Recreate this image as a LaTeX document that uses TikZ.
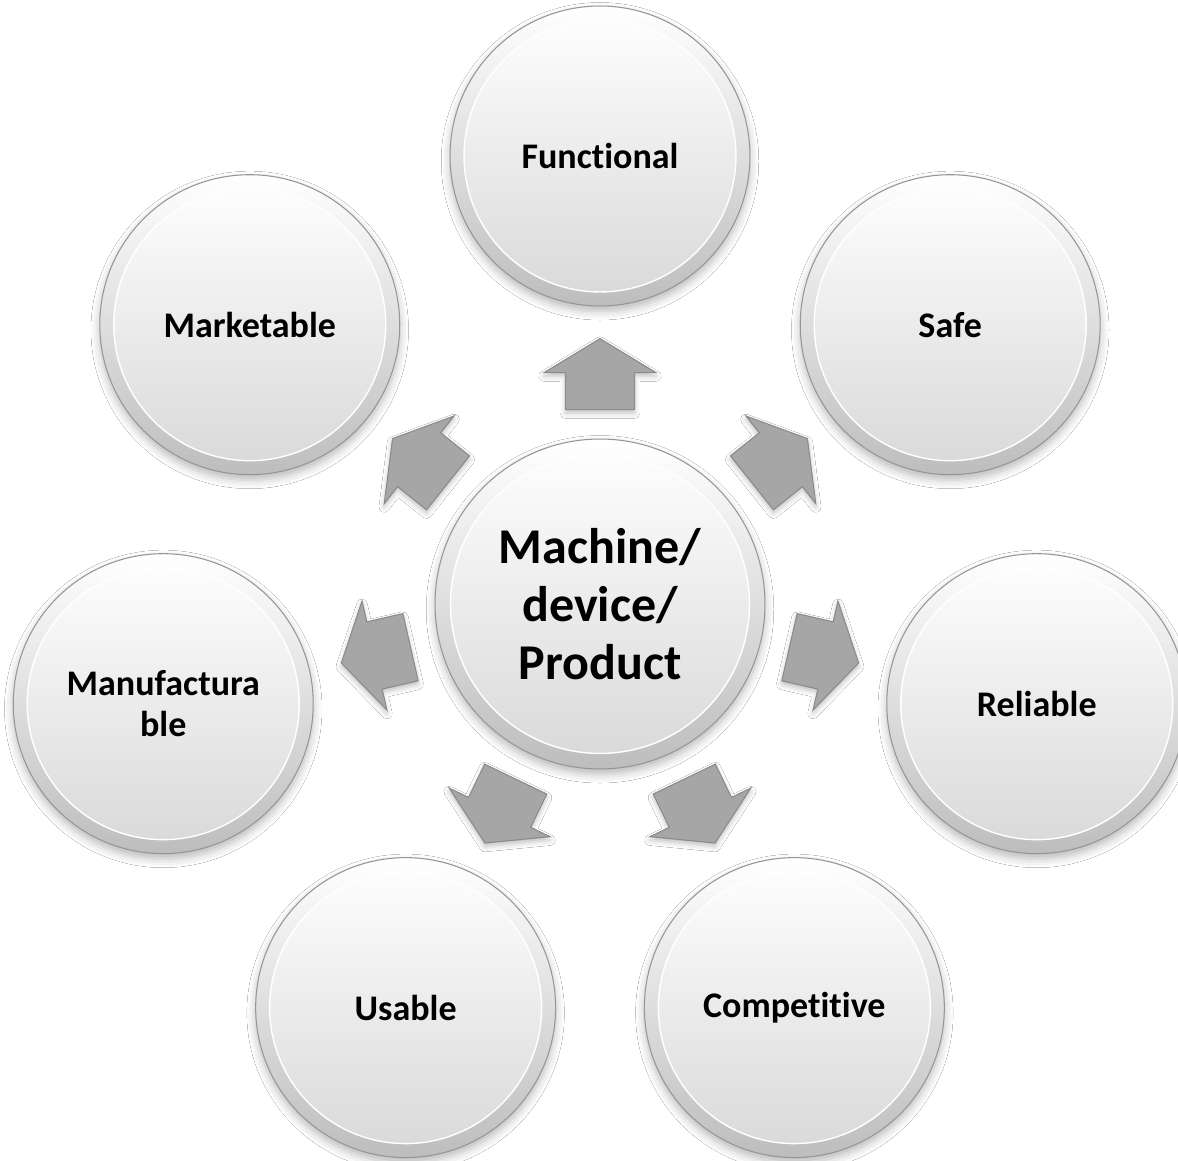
\documentclass[tikz,border=0pt]{standalone}
\usepackage{fontspec}
\setmainfont[Ligatures=NoCommon]{Carlito}
\usetikzlibrary{calc,shadows.blur}

% keeps "t" and "i" as separate glyphs
\newcommand\tisplit{t\kern0pt i}

\definecolor{ringtop}{HTML}{FFFFFF}
\definecolor{ringbot}{HTML}{BDBDBD}
\definecolor{disctop}{HTML}{FFFFFF}
\definecolor{discbot}{HTML}{D8D8D8}
\definecolor{rimline}{HTML}{969696}
\definecolor{arrowfill}{HTML}{A6A6A6}
\definecolor{arrowline}{HTML}{8A8A8A}

\tikzset{
  disc/.style={path picture={\shade[top color=disctop,bottom color=discbot]
      (path picture bounding box.center) circle (#1);
      \draw[white, line width=0.8pt]
      (path picture bounding box.center) circle (#1);}},
  bubble/.style={circle, inner sep=0pt, draw=rimline, line width=0.6pt,
    top color=ringtop, bottom color=ringbot, align=center, text=black,
    blur shadow={shadow xshift=0pt, shadow yshift=-3pt,
      shadow blur radius=5pt, shadow opacity=28}},
  outer/.style={bubble, minimum size=6cm, disc=2.72cm,
    font=\bfseries\fontsize{20.5}{23}\selectfont},
  hub/.style={bubble, minimum size=6.6cm, disc=2.99cm,
    font=\bfseries\fontsize{28.5}{33}\selectfont},
  blockarrow/.style={fill=arrowfill, draw=arrowline, line width=0.6pt,
    line join=miter,
    blur shadow={shadow xshift=0pt, shadow yshift=-2pt,
      shadow blur radius=3pt, shadow opacity=25}}
}

\begin{document}
\begin{tikzpicture}[x=0.02cm, y=0.02cm]
  \fill[white] (0,0) rectangle (1178,1161);
  \useasboundingbox (0,0) rectangle (1178,1161);

  % central hub and the seven qualities around it
  \coordinate (c) at (600,557);
  \node[hub] (hub) at (c) {Machine/\\device/\\Product};
  \node[outer] (fun) at ($(c)+(90:448)$)      {Func\tisplit onal};
  \node[outer] (saf) at ($(c)+(38.571:448)$)  {Safe};
  \node[outer] (rel) at ($(c)+(-12.857:448)$) {Reliable};
  \node[outer] (com) at ($(c)+(-64.286:448)$) {Compe\tisplit\tisplit ve};
  \node[outer] (usa) at ($(c)+(-115.714:448)$){Usable};
  \node[outer] (man) at ($(c)+(192.857:448)$) {Manufactura\\ble};
  \node[outer] (mar) at ($(c)+(141.429:448)$) {Marketable};

  % block arrows pointing outward from the hub
  \foreach \n/\a in {fun/90, saf/38.571, rel/-12.857, com/-64.286,
                     usa/-115.714, man/192.857, mar/141.429}
    \path[blockarrow, shift={($(hub)!0.513!(\n)$)}, rotate=\a]
      (-35.5,-34.5) -- (1.5,-34.5) -- (1.5,-56) -- (35.5,0)
      -- (1.5,56) -- (1.5,34.5) -- (-35.5,34.5) -- cycle;
\end{tikzpicture}
\end{document}
